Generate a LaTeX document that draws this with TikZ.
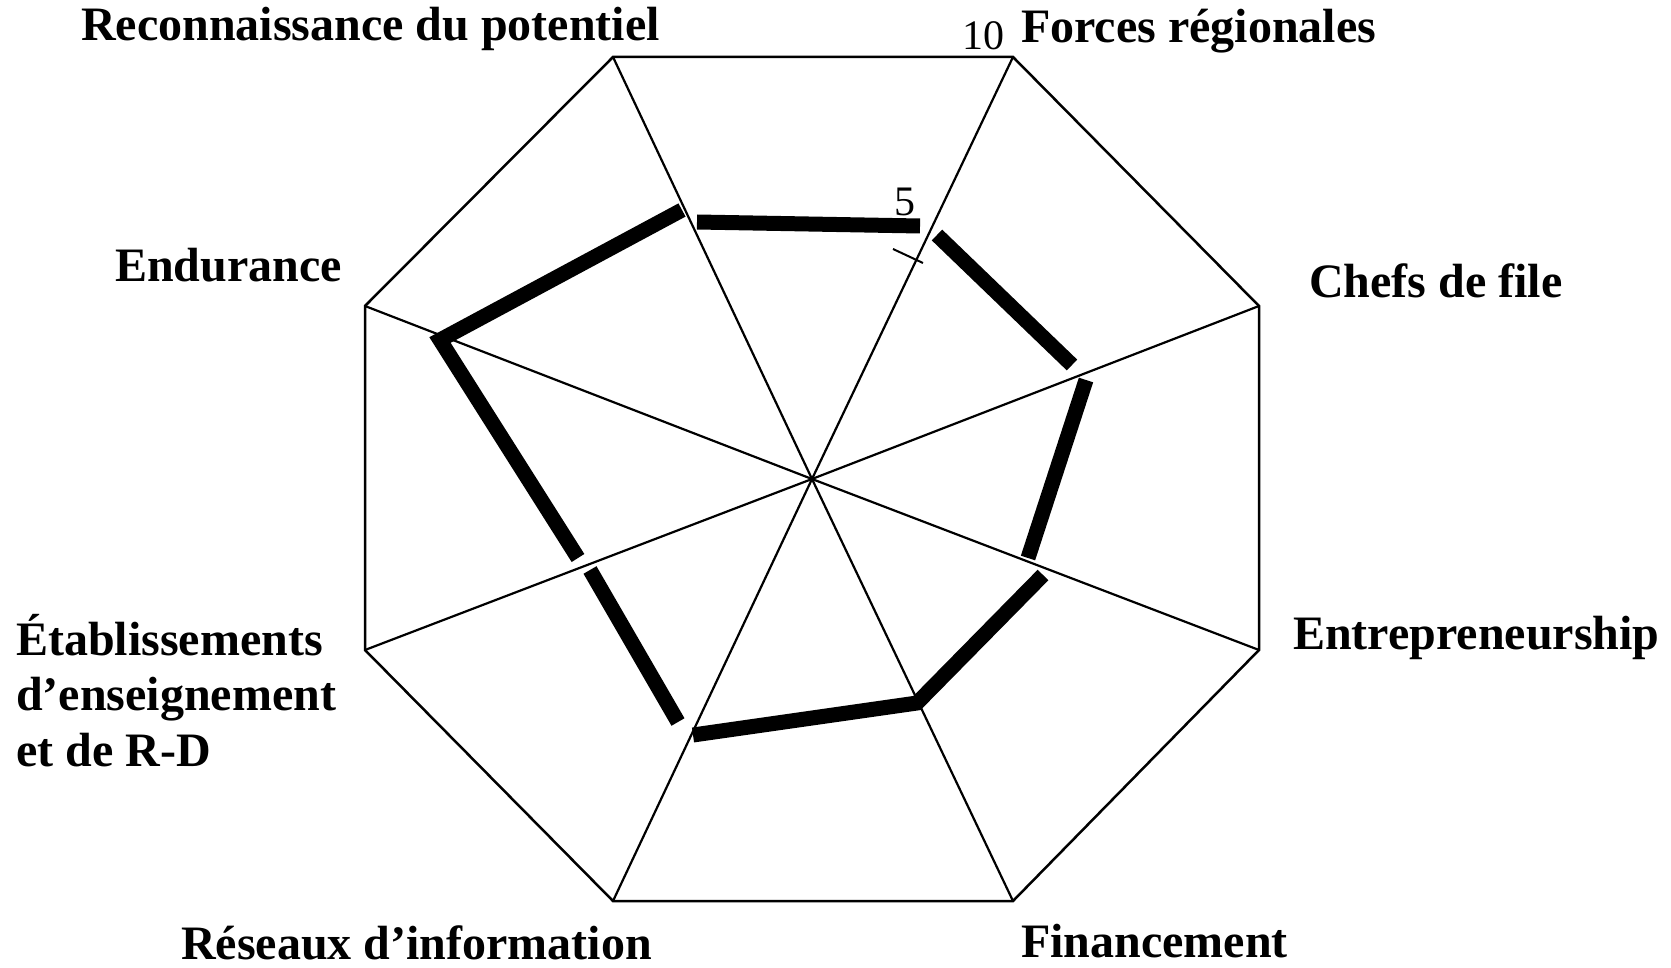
\documentclass[tikz,border=0pt]{standalone}
\usepackage{fontspec}
\setmainfont{Liberation Serif}
\usepackage{tikz}

\begin{document}
\begin{tikzpicture}
[x=1pt,y=-1pt,
  framedecorate/.style={line width=2.5pt,line join=miter},
  spokedecorate/.style={line width=2.2pt},
  scoredecorate/.style={line width=15pt,line join=miter},
  tickdecorate/.style={line width=2pt},
  labeldecorate/.style={inner sep=0pt,anchor=base west,align=left,
    font=\fontsize{48}{55.5}\selectfont\bfseries},
  numberdecorate/.style={inner sep=0pt,anchor=base east,
    font=\fontsize{42}{42}\selectfont}]
\useasboundingbox (0,0) rectangle (1671,968);
%% centre and corners of the octagon
\coordinate (c) at (812,479);
\foreach \nodename/\x/\y in {
  1/1013/57, 2/1259/306, 3/1259/650, 4/1013/901,
  5/613/901, 6/365/650, 7/365/306, 8/613/57}
{
  \coordinate (v\nodename) at (\x,\y);
}
%% frame and spokes
\draw[framedecorate] (v1) -- (v2) -- (v3) -- (v4) -- (v5) -- (v6) -- (v7) -- (v8) -- cycle;
\foreach \nodename in {1,...,8}
{
  \draw[spokedecorate] (c) -- (v\nodename);
}
%% scale marks
\coordinate (t1) at (893,249);
\coordinate (t2) at (923,263);
\draw[tickdecorate] (t1) -- (t2);
\node (five) at (916,216) [numberdecorate] {5};
\node (ten) at (1005,50) [numberdecorate] {10};
%% score line, one piece per wedge
\foreach \nodename/\x/\y in {
  a1/697/222, a2/920/226, b1/937/235, b2/1072/365,
  d1/1086/380, d2/1028/558, e1/1043/575, e2/917/703, e3/693/735,
  g1/678/722, g2/590/570, h1/578/558, h2/440/340, h3/682/210}
{
  \coordinate (\nodename) at (\x,\y);
}
\draw[scoredecorate] (a1) -- (a2);
\draw[scoredecorate] (b1) -- (b2);
\draw[scoredecorate] (d1) -- (d2);
\draw[scoredecorate] (e1) -- (e2) -- (e3);
\draw[scoredecorate] (g1) -- (g2);
\draw[scoredecorate] (h1) -- (h2) -- (h3);
%% labels
\node (reco) at (81,41) [labeldecorate] {Reconnaissance du potentiel};
\node (forces) at (1021,43) [labeldecorate] {Forces régionales};
\node (chefs) at (1309,298) [labeldecorate] {Chefs de file};
\node (endu) at (115,282) [labeldecorate] {Endurance};
\node (entre) at (1293,649) [labeldecorate] {Entrepreneurship};
\node (etab) at (16,766) [labeldecorate] {Établissements\\d’enseignement\\et de R-D};
\node (fin) at (1021,957) [labeldecorate] {Financement};
\node (res) at (181,959) [labeldecorate] {Réseaux d’information};
\end{tikzpicture}
\end{document}
